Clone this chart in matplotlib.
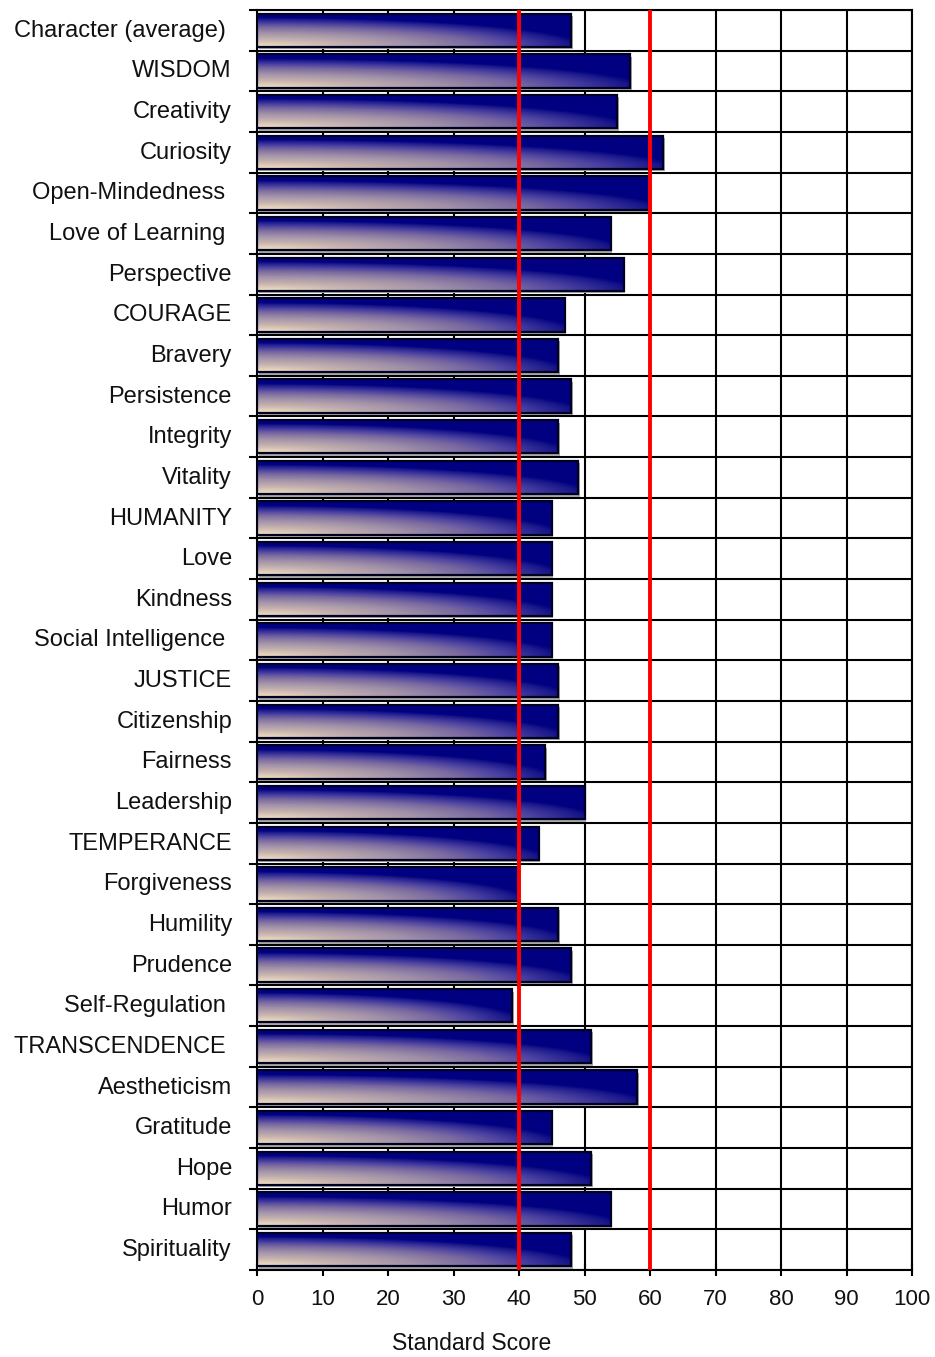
import numpy as np
import matplotlib
matplotlib.use("Agg")
import matplotlib.pyplot as plt
from matplotlib.colors import LinearSegmentedColormap
from matplotlib.patches import Rectangle

labels = ["Character (average) ", "WISDOM", "Creativity", "Curiosity",
          "Open-Mindedness ", "Love of Learning ", "Perspective", "COURAGE",
          "Bravery", "Persistence", "Integrity", "Vitality", "HUMANITY",
          "Love", "Kindness", "Social Intelligence ", "JUSTICE",
          "Citizenship", "Fairness", "Leadership", "TEMPERANCE",
          "Forgiveness", "Humility", "Prudence", "Self-Regulation ",
          "TRANSCENDENCE ", "Aestheticism", "Gratitude", "Hope", "Humor",
          "Spirituality"]
scores = [48, 57, 55, 62, 60, 54, 56, 47, 46, 48, 46, 49, 45, 45, 45, 45,
          46, 46, 44, 50, 43, 40, 46, 48, 39, 51, 58, 45, 51, 54, 48]
ref_lines = [40, 60]
xticks = list(range(0, 101, 10))

plt.rcParams['font.family'] = ['Liberation Sans', 'DejaVu Sans']

fig = plt.figure(figsize=(9.35, 13.57), dpi=100)
ax = fig.add_axes([257 / 935, 1 - 1270 / 1357, 655 / 935, 1260 / 1357])

cmap = LinearSegmentedColormap.from_list(
    "bar", [(0.0, "#f4e4c2"), (0.24, "#c8b4b0"), (0.48, "#a090a8"),
            (0.67, "#7868a0"), (0.81, "#4a40a0"), (0.95, "#18168a"),
            (1.0, "#000080")])

n = len(labels)
ypos = np.arange(n)
h = 0.82

# gradient from the bottom-left corner of each bar: cream -> navy
gu, gv = np.meshgrid(np.linspace(0, 1, 240), np.linspace(0, 1, 60))
grad = np.clip(np.sqrt(gu ** 2 + (1.2 * gv) ** 2) / 1.05, 0, 1)

for y, s in zip(ypos, scores):
    top = y - h / 2
    bot = y + h / 2
    ax.add_patch(Rectangle((0.25, top + 0.06), s, h, facecolor="#a8a8a8",
                           edgecolor="none", zorder=2))
    im = ax.imshow(grad[::-1], cmap=cmap, vmin=0, vmax=1, aspect="auto",
                   extent=(0, s, bot, top), origin="upper", zorder=3,
                   interpolation="bilinear")
    r = Rectangle((0, top), s, h, facecolor="none", edgecolor="#000020",
                  linewidth=1.6, zorder=4)
    ax.add_patch(r)
    im.set_clip_path(r)

for v in ref_lines:
    ax.axvline(v, color="#ff0000", linewidth=2.8, zorder=5)

ax.set_xlim(0, 100)
ax.set_ylim(n - 0.5, -0.5)

ax.set_xticks(xticks)
ax.set_xticklabels([str(t) for t in xticks], fontsize=16, color="#111111")
ax.tick_params(axis="x", direction="inout", length=9, width=1.5, pad=9)

ax.set_yticks(np.arange(n + 1) - 0.5)
ax.set_yticklabels([])
ax.tick_params(axis="y", which="major", direction="out", length=6, width=1.5)
ax.set_yticks(ypos - 0.05, minor=True)
ax.set_yticklabels(labels, minor=True, fontsize=17, color="#111111")
ax.tick_params(axis="y", which="minor", length=0, pad=18)

ax.grid(True, which="major", color="black", linewidth=1.5, zorder=1)
ax.set_axisbelow(True)
for sp in ax.spines.values():
    sp.set_linewidth(1.5)
    sp.set_color("black")

fig.text(472 / 935, 1 - 1343 / 1357, "Standard Score", ha="center", va="center",
         fontsize=16.5, color="#111111")

fig.savefig("out.png", dpi=100)
